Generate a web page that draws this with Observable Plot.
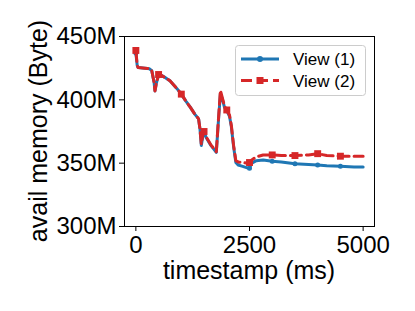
<!DOCTYPE html>
<html><head><meta charset="utf-8">
<script src="https://cdn.jsdelivr.net/npm/d3@7"></script>
<script src="https://cdn.jsdelivr.net/npm/@observablehq/plot@0.6"></script>
<style>body{margin:0;background:#fff}</style>
</head><body><div id="chart"></div>
<script>
// timestamps (ms)
const timestamps = [0, 30, 50, 200, 300, 350, 400, 420, 450, 500, 550, 650, 750, 900, 1000, 1100, 1200, 1300, 1380, 1410, 1440, 1480, 1500, 1550, 1650, 1770, 1810, 1860, 1900, 1950, 2000, 2060, 2100, 2150, 2200, 2250, 2350, 2450, 2500, 2550, 2650, 2800, 3000, 3200, 3500, 3800, 4000, 4200, 4500, 4800, 5000];
// available memory (millions of bytes)
const view1 = [437, 427, 425.5, 425, 424.5, 423, 414, 407, 413, 419.5, 419.5, 417.5, 415, 409, 404.5, 399, 394, 388.5, 385, 377, 364, 373, 374.5, 370, 364, 358.5, 380, 405, 401, 394, 391.5, 387, 379, 363, 350.5, 348.5, 347.5, 346.3, 346, 350, 352, 352.5, 351.5, 351, 349.5, 349, 348.5, 348, 347.5, 347, 347];
const view2 = [439, 427, 425.5, 425, 424.5, 423, 414, 407, 413, 420, 419.5, 417.5, 415, 409, 404.5, 399, 394, 388.5, 385, 377, 365, 374, 375, 370.5, 364.5, 359, 381, 407.5, 402, 395, 392, 388, 380, 364, 352, 351, 350.5, 350, 350.5, 352.5, 355, 356.5, 356.5, 356, 356, 356.5, 357.5, 356, 355.5, 355.5, 355.5];
const seriesNames = ["View (1)", "View (2)"];
const xTicks = [0, 2500, 5000];
const yTicks = [300, 350, 400, 450];
const markEvery = 500;
const lastMarker = 4500;

const blue = "#1f77b4", red = "#d62728";
const rows1 = timestamps.map((t, i) => ({t, v: view1[i]}));
const rows2 = timestamps.map((t, i) => ({t, v: view2[i]}));
const isMarker = d => d.t % markEvery === 0 && d.t <= lastMarker;

const font = "'Liberation Sans', Arial, sans-serif";
const plot = Plot.plot({
  width: 415, height: 311,
  marginLeft: 124, marginRight: 41, marginTop: 36, marginBottom: 85,
  style: {fontFamily: font, fontSize: "24px", background: "#fff", color: "#000", overflow: "visible"},
  x: {domain: [-250, 5250]},
  y: {domain: [300, 450]},
  marks: [
    Plot.axisX({ticks: xTicks, tickSize: 5, tickPadding: 4, tickFormat: d => String(d), label: null, fontSize: 24}),
    Plot.axisY({ticks: yTicks, tickSize: 5, tickPadding: 3, tickFormat: d => d + "M", label: null, fontSize: 24}),
    Plot.line(rows1, {x: "t", y: "v", stroke: blue, strokeWidth: 3}),
    Plot.dot(rows1.filter(isMarker), {x: "t", y: "v", fill: blue, r: 2.5, stroke: null}),
    Plot.line(rows2, {x: "t", y: "v", stroke: red, strokeWidth: 3, strokeDasharray: "11,5"}),
    Plot.dot(rows2.filter(isMarker), {x: "t", y: "v", fill: red, symbol: "square", r: 3.9, stroke: null}),
    Plot.frame({stroke: "#000", strokeWidth: 1})
  ]
});
document.getElementById("chart").appendChild(plot);

const svg = d3.select(plot);
// axis titles
svg.append("text").attr("x", 249).attr("y", 278.5).attr("text-anchor", "middle")
  .attr("font-family", font).attr("font-size", 25).attr("fill", "#000").text("timestamp (ms)");
svg.append("text").attr("transform", "translate(47,131) rotate(-90)").attr("text-anchor", "middle")
  .attr("font-family", font).attr("font-size", 25).attr("fill", "#000").text("avail memory (Byte)");

// legend
const lg = svg.append("g");
lg.append("rect").attr("x", 235.5).attr("y", 45.5).attr("width", 130).attr("height", 50)
  .attr("rx", 3).attr("fill", "#fff").attr("fill-opacity", 0.8).attr("stroke", "#ccc");
const items = [
  {name: seriesNames[0], color: blue, dash: null, y: 59, sym: "circle"},
  {name: seriesNames[1], color: red, dash: "11,5", y: 80.5, sym: "square"}
];
items.forEach(it => {
  lg.append("line").attr("x1", 241).attr("x2", 279).attr("y1", it.y).attr("y2", it.y)
    .attr("stroke", it.color).attr("stroke-width", 3).attr("stroke-dasharray", it.dash);
  if (it.sym === "circle") lg.append("circle").attr("cx", 260).attr("cy", it.y).attr("r", 3).attr("fill", it.color);
  else lg.append("rect").attr("x", 256.5).attr("y", it.y - 3.5).attr("width", 7).attr("height", 7).attr("fill", it.color);
  lg.append("text").attr("x", 293).attr("y", it.y).attr("dy", "0.36em").attr("text-anchor", "start")
    .attr("font-family", font).attr("font-size", 17).attr("fill", "#000").text(it.name);
});
</script>
</body></html>
